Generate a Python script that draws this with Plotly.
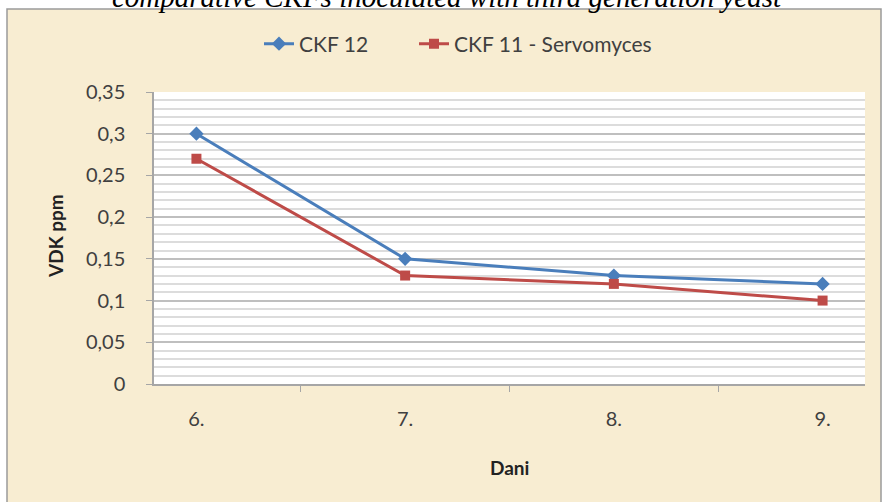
import plotly.graph_objects as go

days = ["6.", "7.", "8.", "9."]
ckf12 = [0.30, 0.15, 0.13, 0.12]
ckf11 = [0.27, 0.13, 0.12, 0.10]
ytick_vals = [0, 0.05, 0.1, 0.15, 0.2, 0.25, 0.3, 0.35]
ytick_text = ["0", "0,05", "0,1", "0,15", "0,2", "0,25", "0,3", "0,35"]

W, H = 883, 502
L, R, T, B = 154, 18, 92, 118
pw, ph = W - L - R, H - T - B

def px(x):
    return (x - L) / pw

def py(y):
    return (H - B - y) / ph

fig = go.Figure()
fig.add_trace(go.Scatter(x=days, y=ckf12, name="CKF 12", mode="lines+markers",
                         line=dict(color="#4A7EBB", width=3), legend="legend",
                         marker=dict(symbol="diamond", size=11, color="#4A7EBB")))
fig.add_trace(go.Scatter(x=days, y=ckf11, name="CKF 11 - Servomyces", mode="lines+markers",
                         line=dict(color="#BE4B48", width=3), legend="legend2",
                         marker=dict(symbol="square", size=10, color="#BE4B48")))

font = "Lato, 'Open Sans', sans-serif"
leg_common = dict(orientation="h", xanchor="left", y=py(44), yanchor="middle",
                  font=dict(size=21, color="#404040"), bgcolor="rgba(0,0,0,0)")
fig.update_layout(
    width=W, height=H,
    margin=dict(l=L, r=R, t=T, b=B, autoexpand=False),
    paper_bgcolor="white",
    plot_bgcolor="white",
    font=dict(family=font, size=20, color="#404040"),
    showlegend=True,
    legend=dict(x=px(259), **leg_common),
    legend2=dict(x=px(414), **leg_common),
    xaxis=dict(type="category", showgrid=False, showline=True, linecolor="#A6A6A6", linewidth=1.5,
               ticks="outside", tickson="boundaries", ticklen=6, tickcolor="#A6A6A6",
               ticklabelstandoff=16, automargin=False,
               tickfont=dict(size=20, color="#404040")),
    yaxis=dict(range=[0, 0.35], tickvals=ytick_vals, ticktext=ytick_text,
               showgrid=True, gridcolor="#BFBFBF", gridwidth=2,
               showline=True, linecolor="#A6A6A6", linewidth=1.5,
               ticks="outside", ticklen=6, tickcolor="#A6A6A6",
               ticklabelstandoff=17, automargin=False,
               zeroline=False,
               minor=dict(dtick=0.01, showgrid=True, gridcolor="#DCDCDC", gridwidth=2, ticks=""),
               tickfont=dict(size=20, color="#404040")),
    shapes=[
        dict(type="rect", xref="paper", yref="paper", x0=px(7), x1=px(881), y0=py(515), y1=py(9),
             fillcolor="#F8EDD2", line=dict(color="#9A9A9A", width=1.5), layer="below"),
        dict(type="rect", xref="paper", yref="paper", x0=0, x1=1, y0=0, y1=1,
             fillcolor="white", line=dict(width=0), layer="below"),
    ],
    annotations=[
        dict(text="<i>comparative CKFs inoculated with third generation yeast</i>",
             xref="paper", yref="paper", x=px(447), y=py(15), xanchor="center", yanchor="bottom",
             showarrow=False, font=dict(family="'Liberation Serif', 'Times New Roman', serif",
                                        size=29, color="black")),
        dict(text="<b>Dani</b>", xref="paper", yref="paper", x=px(509), y=py(467),
             xanchor="center", yanchor="middle", showarrow=False,
             font=dict(size=19, color="#222222")),
        dict(text="<b>VDK ppm</b>", xref="paper", yref="paper", x=px(55), y=py(236),
             xanchor="center", yanchor="middle", showarrow=False, textangle=-90,
             font=dict(size=19, color="#222222")),
    ],
)

fig.write_html("out.html", config={"displayModeBar": False},
               post_script="document.body.style.margin='0';document.body.style.overflow='hidden';")
